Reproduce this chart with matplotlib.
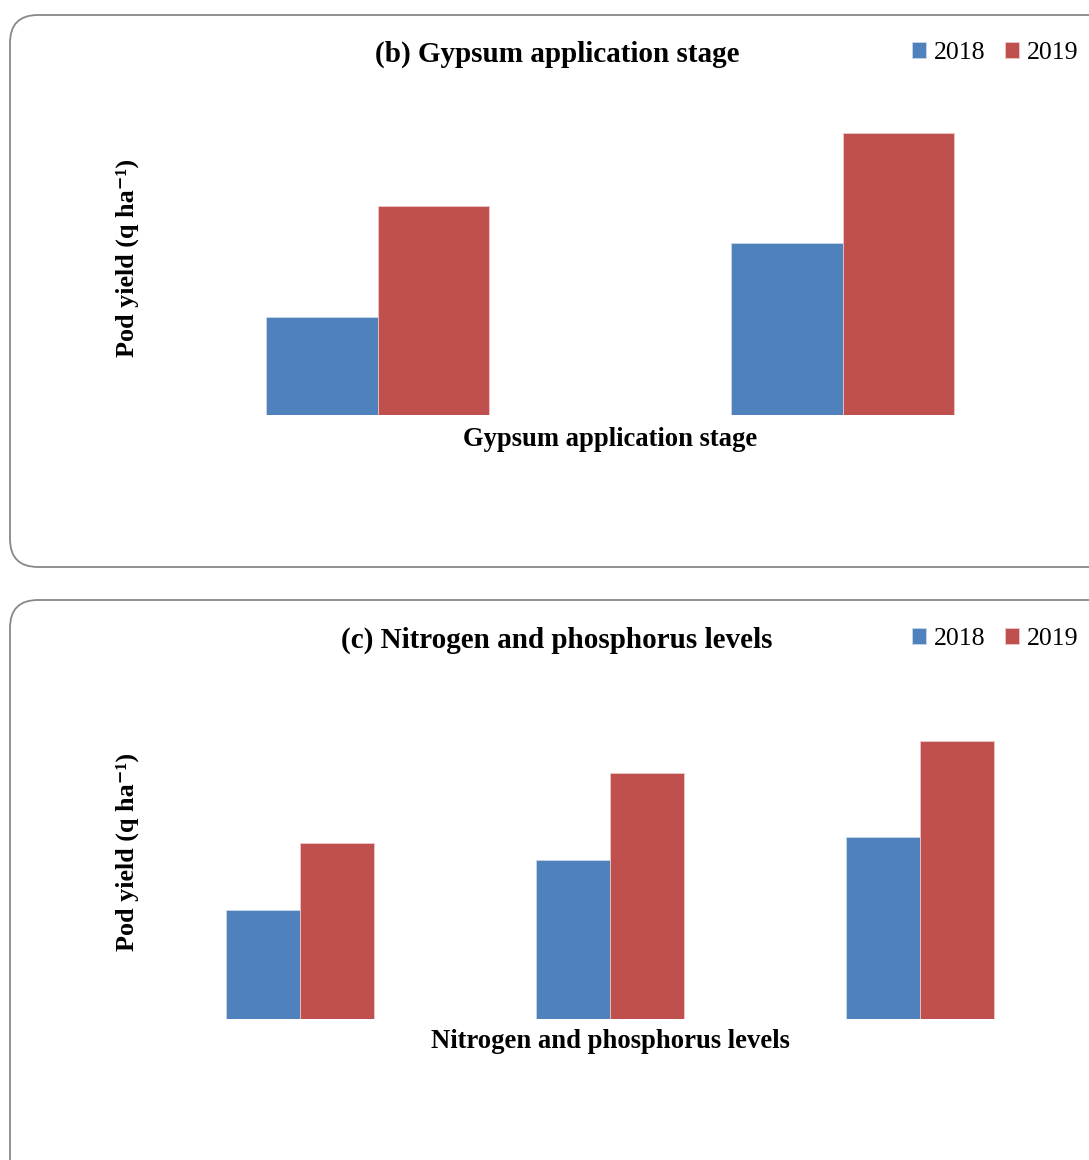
import matplotlib
matplotlib.use("Agg")
import matplotlib.pyplot as plt
from matplotlib.patches import FancyBboxPatch
import numpy as np

plt.rcParams['font.family'] = ['Liberation Serif', 'DejaVu Serif']

# ---- data (relative pod yield; no axis scale shown) ----
years = ["2018", "2019"]
colors = ["#4F81BD", "#C0504D"]

gyp_categories = ["G1", "G2"]           # category labels not shown in the figure
gyp_2018 = [9.8, 17.2]
gyp_2019 = [20.9, 28.2]

np_categories = ["NP1", "NP2", "NP3"]  # category labels not shown in the figure
np_2018 = [10.9, 15.9, 18.2]
np_2019 = [17.6, 24.6, 27.8]

W, H = 1089, 1160
fig = plt.figure(figsize=(W / 100, H / 100), dpi=100)

# background axes in pixel coordinates for the rounded panel frames
bg = fig.add_axes([0, 0, 1, 1])
bg.set_xlim(0, W)
bg.set_ylim(H, 0)
bg.axis("off")
for (y0, y1) in [(15, 567), (600, 1185)]:
    bg.add_patch(FancyBboxPatch((10, y0), 1110, y1 - y0,
                                boxstyle="round,pad=0,rounding_size=28",
                                fc="white", ec="#888888", lw=1.3))


def fx(px):
    return px / W


def fy(py):
    return 1 - py / H


def panel(top_px, bottom_px, cats, v18, v19, title, xlabel, title_y, xlabel_y, ylab_y):
    ax = fig.add_axes([fx(145), fy(bottom_px), fx(930), (bottom_px - top_px) / H])
    n = len(cats)
    x = np.arange(n)
    bw = 0.239
    b1 = ax.bar(x - bw / 2, v18, bw, color=colors[0], edgecolor="#c8d6ea", lw=0.6, label=years[0])
    b2 = ax.bar(x + bw / 2, v19, bw, color=colors[1], edgecolor="#ecc8c7", lw=0.6, label=years[1])
    ax.set_xlim(-0.5, n - 0.5)
    ax.set_ylim(0, (bottom_px - top_px) / 10)
    ax.set_xticks([])
    ax.set_yticks([])
    for s in ax.spines.values():
        s.set_visible(False)
    ax.patch.set_alpha(0)
    fig.text(fx(557), fy(title_y + 2), title, ha="center", va="center",
             fontsize=21, fontweight="bold")
    fig.text(fx(610), fy(xlabel_y + 2), xlabel, ha="center", va="center",
             fontsize=19.2, fontweight="bold")
    fig.text(fx(127), fy(ylab_y), "Pod yield (q ha\u207b\u00b9)", ha="center", va="center",
             rotation=90, fontsize=18.8, fontweight="bold")
    ax.legend(handles=[b1, b2], loc="center",
              bbox_to_anchor=(fx(995), fy(title_y + 1)), bbox_transform=fig.transFigure,
              ncol=2, frameon=False, fontsize=18.6, handlelength=0.55, handleheight=0.55,
              handletextpad=0.3, columnspacing=0.75, borderpad=0)
    return ax


panel(100, 415, gyp_categories, gyp_2018, gyp_2019,
      "(b) Gypsum application stage", "Gypsum application stage", 52, 437, 258)
panel(700, 1019, np_categories, np_2018, np_2019,
      "(c) Nitrogen and phosphorus levels", "Nitrogen and phosphorus levels", 638, 1040, 852)

fig.savefig("out.png", dpi=100)
